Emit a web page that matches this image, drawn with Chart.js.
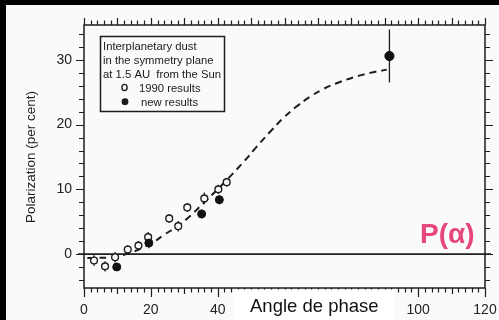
<!DOCTYPE html>
<html><head><meta charset="utf-8">
<script src="https://cdn.jsdelivr.net/npm/chart.js@4/dist/chart.umd.min.js"></script>
<style>html,body{margin:0;padding:0;background:#fafafa;overflow:hidden;width:499px;height:320px}canvas{display:block;width:499px;height:320px}</style>
</head><body>
<canvas id="c" width="499" height="320"></canvas>
<script>
const xTickValues = [0, 20, 40, 60, 80, 100, 120];
const yTickValues = [0, 10, 20, 30];

const oldAngle = [3.0, 6.3, 9.3, 13.1, 16.3, 19.2, 25.5, 28.2, 30.9, 36.0, 40.2, 42.7];
const oldPol   = [-1.0, -1.9, -0.5, 0.7, 1.3, 2.6, 5.5, 4.3, 7.2, 8.6, 10.0, 11.1];
const oldErr   = [0.8, 0.8, 0.8, 0.7, 0.7, 0.8, 0.7, 0.8, 0.7, 0.9, 0.7, 0.7];

const newAngle = [9.8, 19.4, 35.2, 40.5, 91.4];
const newPol   = [-2.0, 1.7, 6.2, 8.4, 30.6];
const newErr   = [0.6, 0.8, 0.7, 0.7, 4.1];

const curveAngle = [1, 4, 8, 12, 15, 18, 21, 24, 28, 32, 36, 40, 43, 47.7, 51.7, 55.7, 59.6, 63.6, 67.6, 71.6, 75.6, 80.6, 85.6, 90.6];
const curvePol   = [-0.6, -0.6, -0.5, -0.1, 0.4, 1.1, 1.9, 3.0, 4.3, 6.0, 8.0, 10.0, 11.6, 14.2, 16.6, 18.9, 21.0, 22.8, 24.3, 25.5, 26.4, 27.3, 28.0, 28.5];

const legendLines = ['Interplanetary dust', 'in the symmetry plane', 'at 1.5 AU  from the Sun'];
const legendOld = '1990 results';
const legendNew = 'new results';
const xTitle = 'Angle de phase';
const yTitle = 'Polarization (per cent)';
const overlayLabel = 'P(\u03b1)';

const INK = '#1e1e1e';
const pts = (xs, ys) => xs.map((v, i) => ({x: v, y: ys[i]}));

const deco = {
  id: 'deco',
  beforeDraw(chart) {
    const c = chart.ctx;
    c.save(); c.fillStyle = '#fafafa'; c.fillRect(0, 0, chart.width, chart.height); c.restore();
  },
  beforeDatasetsDraw(chart) {
    const {ctx, chartArea: a, scales: {x, y}} = chart;
    ctx.save();
    ctx.strokeStyle = INK;
    ctx.lineWidth = 1.5;
    ctx.strokeRect(a.left, a.top, a.right - a.left, a.bottom - a.top);
    ctx.lineWidth = 1.2;
    ctx.beginPath();
    for (let v = 0; v <= 120; v += 2) {
      const px = Math.round(x.getPixelForValue(v)) + 0.5;
      const lb = v % 20 === 0 ? 9 : (v % 10 === 0 ? 6 : 4.5);
      ctx.moveTo(px, a.bottom); ctx.lineTo(px, a.bottom + lb);
      const lt = v % 10 === 0 ? 7 : 4.5;
      ctx.moveTo(px, a.top); ctx.lineTo(px, a.top - lt);
    }
    for (let v = -4; v <= 34; v += 2) {
      const py = Math.round(y.getPixelForValue(v)) + 0.5;
      const l = v % 10 === 0 ? 8 : 5;
      ctx.moveTo(a.left, py); ctx.lineTo(a.left - l, py);
      ctx.moveTo(a.right, py); ctx.lineTo(a.right + l, py);
    }
    ctx.stroke();
    const y0 = y.getPixelForValue(0);
    ctx.lineWidth = 1.7;
    ctx.beginPath(); ctx.moveTo(a.left - 6, y0); ctx.lineTo(a.right + 6, y0); ctx.stroke();
    ctx.lineWidth = 1.3;
    ctx.beginPath();
    const bar = (xs, ys, es) => xs.forEach((v, i) => {
      const px = x.getPixelForValue(v);
      ctx.moveTo(px, y.getPixelForValue(ys[i] - es[i]));
      ctx.lineTo(px, y.getPixelForValue(ys[i] + es[i]));
    });
    bar(oldAngle, oldPol, oldErr);
    bar(newAngle, newPol, newErr);
    ctx.stroke();
    ctx.restore();
  },
  afterDraw(chart) {
    const {ctx} = chart;
    ctx.save();
    ctx.strokeStyle = INK; ctx.lineWidth = 1.5;
    ctx.fillStyle = '#fafafa';
    ctx.fillRect(100.5, 36.5, 124, 75);
    ctx.strokeRect(100.5, 36.5, 124, 75);
    ctx.fillStyle = '#1a1a1a';
    ctx.font = '11.3px "Liberation Sans", Arial, sans-serif';
    ctx.textBaseline = 'alphabetic';
    legendLines.forEach((t, i) => ctx.fillText(t, 103, 50 + i * 14));
    ctx.fillText(legendOld, 139, 91.5);
    ctx.fillText(legendNew, 141, 105.5);
    ctx.lineWidth = 1.4;
    ctx.beginPath(); ctx.ellipse(124.5, 87.5, 2.6, 3.1, 0, 0, Math.PI * 2); ctx.stroke();
    ctx.beginPath(); ctx.arc(125, 101.7, 3.4, 0, Math.PI * 2); ctx.fill();

    ctx.fillStyle = '#ffffff';
    ctx.fillRect(234, 289.5, 160, 31);
    ctx.fillStyle = '#111';
    ctx.font = '18.5px "Liberation Sans", Arial, sans-serif';
    ctx.fillText(xTitle, 250, 312);

    ctx.fillStyle = '#e5467d';
    ctx.font = 'bold 28px "Liberation Sans", Arial, sans-serif';
    ctx.fillText(overlayLabel, 420, 243);

    ctx.save();
    ctx.translate(31, 157);
    ctx.rotate(-Math.PI / 2);
    ctx.textAlign = 'center'; ctx.textBaseline = 'middle';
    ctx.fillStyle = '#222';
    ctx.font = '13.5px "Liberation Sans", Arial, sans-serif';
    ctx.fillText(yTitle, 0, 0);
    ctx.restore();

    ctx.fillStyle = '#000';
    ctx.fillRect(0, 0, chart.width, 5);
    ctx.fillRect(0, 0, 6, chart.height);
    ctx.restore();
  }
};

new Chart(document.getElementById('c'), {
  type: 'scatter',
  data: {
    datasets: [
      {
        label: 'curve', data: pts(curveAngle, curvePol), showLine: true,
        borderColor: INK, borderWidth: 2, borderDash: [7, 5], pointRadius: 0,
        tension: 0.4, fill: false, order: 3
      },
      {
        label: legendOld, data: pts(oldAngle, oldPol), showLine: false,
        pointRadius: 3.4, pointBackgroundColor: '#fafafa', pointBorderColor: INK, pointBorderWidth: 1.4, order: 2
      },
      {
        label: legendNew, data: pts(newAngle, newPol), showLine: false,
        pointRadius: [4, 4, 4, 4, 4.6], pointBackgroundColor: '#111', pointBorderColor: '#111', pointBorderWidth: 1, order: 1
      }
    ]
  },
  options: {
    responsive: false, animation: false, devicePixelRatio: 1,
    layout: {padding: {left: 0, top: 25, right: 14, bottom: 0}},
    plugins: {legend: {display: false}, tooltip: {enabled: false}},
    scales: {
      x: {
        type: 'linear', min: 0, max: 120,
        grid: {display: false, drawTicks: false}, border: {display: false},
        afterBuildTicks: s => { s.ticks = xTickValues.map(v => ({value: v})); },
        afterFit: s => { s.height = 32; s.paddingLeft = 0; s.paddingRight = 0; },
        ticks: {padding: 14, color: '#222', font: {family: '"Liberation Sans", Arial', size: 14}, maxRotation: 0, autoSkip: false}
      },
      y: {
        type: 'linear', min: -5.25, max: 35.4,
        grid: {display: false, drawTicks: false}, border: {display: false},
        afterBuildTicks: s => { s.ticks = yTickValues.map(v => ({value: v})); },
        afterFit: s => { s.width = 84; s.paddingTop = 0; s.paddingBottom = 0; },
        ticks: {padding: 12, color: '#222', font: {family: '"Liberation Sans", Arial', size: 14}}
      }
    }
  },
  plugins: [deco]
});
</script>
</body></html>
